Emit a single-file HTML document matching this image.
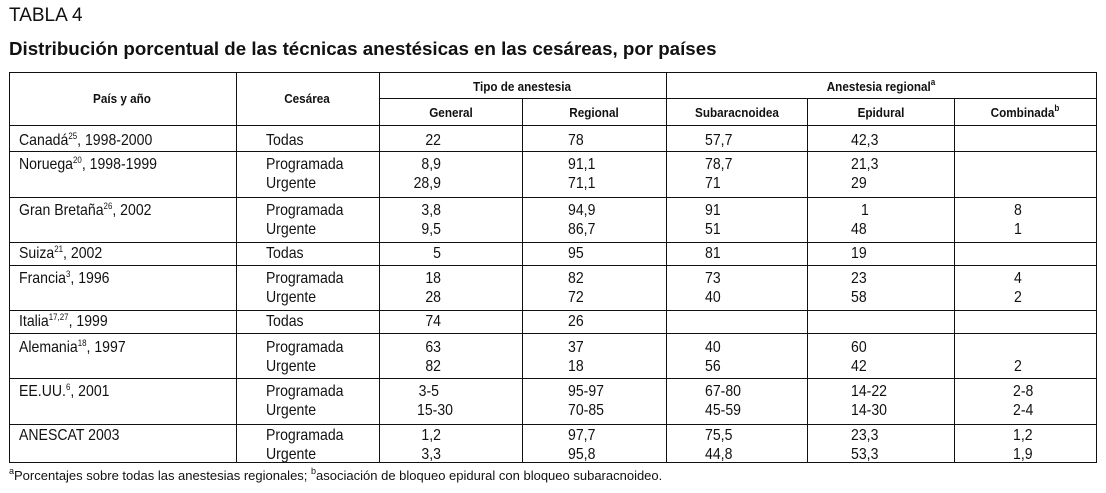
<!DOCTYPE html>
<html><head><meta charset="utf-8">
<style>
body{margin:0;background:#fff;width:1106px;height:493px;position:relative;overflow:hidden;font-family:"Liberation Sans",sans-serif;color:#111}
.t{position:absolute;white-space:nowrap;font-size:16px;line-height:18px;transform:scaleX(0.88);transform-origin:0 0}
.h{position:absolute;white-space:nowrap;font-size:13px;font-weight:bold;line-height:14px;transform:translateX(-50%) scaleX(0.9);}
.r{transform-origin:100% 0;transform:translateX(-100%) scaleX(0.88)}
.ln{position:absolute;background:#111}
sup{font-size:9px;vertical-align:6px;line-height:0}
</style></head><body>
<div class="t" style="left:9px;top:5px;font-size:19px;line-height:22px;transform:scaleX(1.0)">TABLA 4</div>
<div class="t" style="left:9px;top:38px;font-size:18px;font-weight:bold;line-height:22px;transform:scaleX(1.04)">Distribución porcentual de las técnicas anestésicas en las cesáreas, por países</div>

<div>
<div class="ln" style="left:9px;top:72px;width:1088px;height:1px"></div>
<div class="ln" style="left:9px;top:72px;width:1px;height:391px"></div>
<div class="ln" style="left:1096px;top:72px;width:1px;height:391px"></div>
<div class="ln" style="left:9px;top:462px;width:1088px;height:1px"></div>
<div class="ln" style="left:379px;top:98px;width:718px;height:1px"></div>
<div class="ln" style="left:9px;top:125px;width:1088px;height:1px"></div>
<div class="ln" style="left:236px;top:72px;width:1px;height:391px"></div>
<div class="ln" style="left:379px;top:72px;width:1px;height:391px"></div>
<div class="ln" style="left:666px;top:72px;width:1px;height:391px"></div>
<div class="ln" style="left:522px;top:98px;width:1px;height:365px"></div>
<div class="ln" style="left:807px;top:98px;width:1px;height:365px"></div>
<div class="ln" style="left:954px;top:98px;width:1px;height:365px"></div>
<div class="ln" style="left:9px;top:151px;width:1088px;height:1px"></div>
<div class="ln" style="left:9px;top:197px;width:1088px;height:1px"></div>
<div class="ln" style="left:9px;top:242px;width:1088px;height:1px"></div>
<div class="ln" style="left:9px;top:265px;width:1088px;height:1px"></div>
<div class="ln" style="left:9px;top:310px;width:1088px;height:1px"></div>
<div class="ln" style="left:9px;top:333px;width:1088px;height:1px"></div>
<div class="ln" style="left:9px;top:378px;width:1088px;height:1px"></div>
<div class="ln" style="left:9px;top:424px;width:1088px;height:1px"></div>

<div class="h" style="left:122px;top:92px">País y año</div>
<div class="h" style="left:307px;top:92px">Cesárea</div>
<div class="h" style="left:522px;top:80px">Tipo de anestesia</div>
<div class="h" style="left:881px;top:80px">Anestesia regional<sup>a</sup></div>
<div class="h" style="left:451px;top:106px">General</div>
<div class="h" style="left:594px;top:106px">Regional</div>
<div class="h" style="left:737px;top:106px">Subaracnoidea</div>
<div class="h" style="left:881px;top:106px">Epidural</div>
<div class="h" style="left:1025px;top:106px">Combinada<sup>b</sup></div>
</div>

<div id="body"></div>

<div class="t" style="left:9px;top:468px;font-size:13px;line-height:15px;transform:scaleX(1.0)"><sup>a</sup>Porcentajes sobre todas las anestesias regionales; <sup>b</sup>asociación de bloqueo epidural con bloqueo subaracnoideo.</div>

<script>
const countries=["Canadá<sup>25</sup>, 1998-2000","Noruega<sup>20</sup>, 1998-1999","Gran Bretaña<sup>26</sup>, 2002","Suiza<sup>21</sup>, 2002","Francia<sup>3</sup>, 1996","Italia<sup>17,27</sup>, 1999","Alemania<sup>18</sup>, 1997","EE.UU.<sup>6</sup>, 2001","ANESCAT 2003"];
const rowTops=[132,156,202,245,270,313,339,383,427];
const cesarea=[["Todas"],["Programada","Urgente"],["Programada","Urgente"],["Todas"],["Programada","Urgente"],["Todas"],["Programada","Urgente"],["Programada","Urgente"],["Programada","Urgente"]];
const general=[["22"],["8,9","28,9"],["3,8","9,5"],["5"],["18","28"],["74"],["63","82"],["3-5","15-30"],["1,2","3,3"]];
const regional=[["78"],["91,1","71,1"],["94,9","86,7"],["95"],["82","72"],["26"],["37","18"],["95-97","70-85"],["97,7","95,8"]];
const subarac=[["57,7"],["78,7","71"],["91","51"],["81"],["73","40"],[""],["40","56"],["67-80","45-59"],["75,5","44,8"]];
const epidural=[["42,3"],["21,3","29"],["1","48"],["19"],["23","58"],[""],["60","42"],["14-22","14-30"],["23,3","53,3"]];
const combinada=[[""],["",""],["8","1"],[""],["4","2"],[""],["","2"],["2-8","2-4"],["1,2","1,9"]];
const body=document.getElementById('body');
function put(txt,x,y,name,right){
  if(!txt)return;
  const d=document.createElement('div');
  d.className='t'+(right?' r':'');
  d.style.left=x+'px';d.style.top=y+'px';
  d.innerHTML=txt;
  
  
  body.appendChild(d);
}
countries.forEach((c,i)=>{
  const y=rowTops[i];
  put(c,19,y,'country-label');
  cesarea[i].forEach((v,j)=>put(v,266,y+j*19,'cesarea-cell'));
  general[i].forEach((v,j)=>put(v,v.includes('-')?(j?453:439):441,y+j*19,'general-value',true));
  regional[i].forEach((v,j)=>put(v,568,y+j*19,'regional-value'));
  subarac[i].forEach((v,j)=>put(v,705,y+j*19,'subaracnoidea-value'));
  epidural[i].forEach((v,j)=>put(v,(v.length===1?861:851),y+j*19,'epidural-value'));
  combinada[i].forEach((v,j)=>put(v,v.length===1?1014:1013,y+j*19,'combinada-value'));
});
</script>
</body></html>
